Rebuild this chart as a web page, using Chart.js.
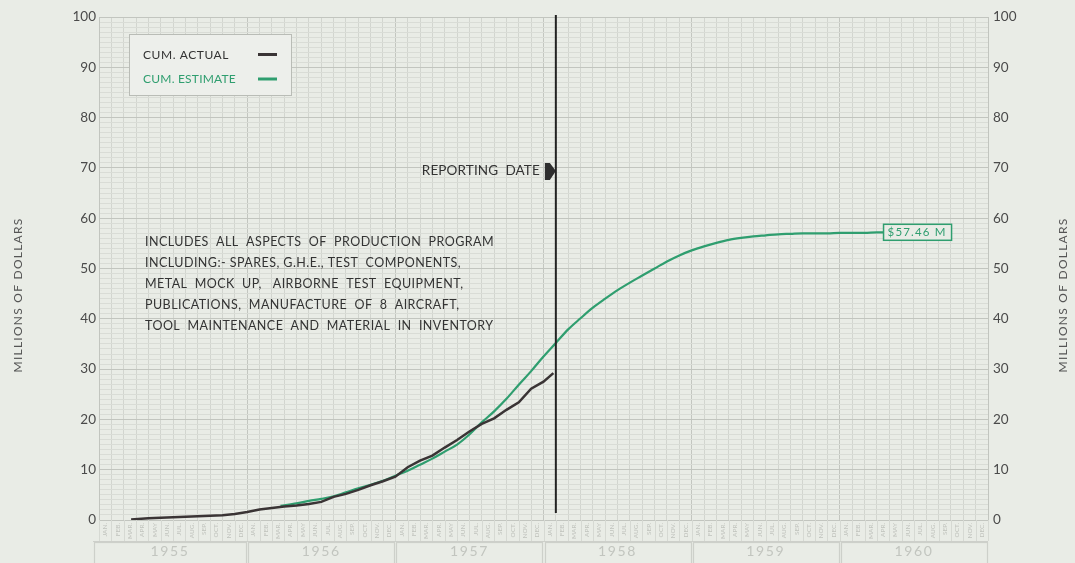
<!DOCTYPE html>
<html><head><meta charset="utf-8">
<script src="https://cdn.jsdelivr.net/npm/chart.js@4.4.1/dist/chart.umd.min.js"></script>
<style>html,body{margin:0;padding:0;background:#e9ece6;overflow:hidden}#wrap{width:1075px;height:563px;position:relative}</style>
</head><body><div id="wrap"><canvas id="c" width="1075" height="563"></canvas></div>
<script>
// ---------- DATA ----------
const monthNames = ['JAN.','FEB.','MAR.','APR.','MAY','JUN.','JUL.','AUG.','SEP.','OCT.','NOV.','DEC.'];
const years = ['1955','1956','1957','1958','1959','1960'];
const yTickValues = [0,10,20,30,40,50,60,70,80,90,100];
// month index: 0 = start of Jan 1955, 72 = end of Dec 1960
const actualMonths = [2.6,4,5,6,7,8,9,10,11,12,13,14,15,16,17,18,19,20,21,22,23,24,25,26,27,28,29,30,31,32,33,34,35,36,36.8];
const actualValues = [0.1,0.35,0.45,0.55,0.65,0.75,0.85,0.95,1.2,1.6,2.1,2.4,2.7,2.9,3.2,3.6,4.6,5.2,6.0,6.9,7.7,8.6,10.5,11.8,12.8,14.4,15.9,17.6,19.1,20.2,21.9,23.4,26.1,27.5,29.2];
const estimateMonths = [14.7,16,17,18,19,20,21,22,23,24,25,26,27,28,29,30,31,32,33,34,35,36,37,38,39,40,41,42,43,44,45,46,47,48,49,50,51,52,53,54,55,56,57,58,59,60,61,62,63,63.5];
const estimateValues = [2.8,3.3,3.8,4.2,4.7,5.5,6.3,7.0,7.8,8.8,9.8,11.0,12.2,13.6,15.0,17.0,19.4,21.6,24.1,26.9,29.6,32.5,35.2,37.9,40.1,42.2,44.0,45.7,47.2,48.6,50.0,51.4,52.6,53.6,54.4,55.1,55.7,56.1,56.4,56.6,56.8,56.9,57.0,57.0,57.0,57.1,57.1,57.1,57.2,57.2];
const reportingMonth = 37;
const finalEstimateLabel = '$57.46 M';
const legendLabels = ['CUM. ACTUAL','CUM. ESTIMATE'];
const axisTitle = 'MILLIONS OF DOLLARS';
const reportingLabel = 'REPORTING  DATE';
const noteLines = [
  'INCLUDES  ALL  ASPECTS  OF  PRODUCTION  PROGRAM',
  'INCLUDING:- SPARES, G.H.E., TEST  COMPONENTS,',
  'METAL  MOCK  UP,   AIRBORNE  TEST  EQUIPMENT,',
  'PUBLICATIONS,  MANUFACTURE  OF  8  AIRCRAFT,',
  'TOOL  MAINTENANCE  AND  MATERIAL  IN  INVENTORY'
];

// ---------- STYLE ----------
const BG = '#e9ece6';
const GREEN = '#2f9e6f';
const DARK = '#3a3435';
const FONT = 'Lato, "Open Sans", sans-serif';
const monthLabels = years.flatMap(() => monthNames);

function fitText(ctx, text, x, y, width, align) {
  ctx.letterSpacing = '0px';
  const w0 = ctx.measureText(text).width;
  const n = [...text].length;
  const ls = (width - w0) / n;
  ctx.letterSpacing = ls + 'px';
  let sx = x;
  if (align === 'right') sx = x - width;
  else if (align === 'center') sx = x - width / 2;
  ctx.textAlign = 'left';
  ctx.fillText(text, sx, y);
  ctx.letterSpacing = '0px';
}

const bgPlugin = {
  id: 'bg',
  beforeDraw(chart) {
    const c = chart.ctx; c.save(); c.fillStyle = BG; c.fillRect(0, 0, chart.width, chart.height); c.restore();
  }
};

const overlayPlugin = {
  id: 'overlay',
  afterDraw(chart) {
    const c = chart.ctx, xs = chart.scales.x, ys = chart.scales.y, a = chart.chartArea;
    c.save();
    // month cell lines under chart
    c.strokeStyle = '#d6d9d3'; c.lineWidth = 1;
    for (let m = 0; m <= 72; m++) {
      const px = Math.round(xs.getPixelForValue(m)) + 0.5;
      c.beginPath(); c.moveTo(px, a.bottom); c.lineTo(px, a.bottom + 21); c.stroke();
    }
    // year band
    const bandTop = a.bottom + 22;
    c.strokeStyle = '#cdd0ca'; c.lineWidth = 1.2;
    c.beginPath(); c.moveTo(xs.getPixelForValue(0) - 6, a.bottom + 21.5); c.lineTo(xs.getPixelForValue(72), a.bottom + 21.5); c.stroke();
    years.forEach((yr, i) => {
      const x0 = (i === 0 ? xs.getPixelForValue(0) - 6 : xs.getPixelForValue(12 * i)) + 1;
      const x1 = xs.getPixelForValue(12 * i + 12) - 1;
      c.strokeRect(Math.round(x0) + 0.5, bandTop + 0.5, Math.round(x1 - x0), 30);
      c.fillStyle = '#c2c5bf'; c.font = '14px ' + FONT; c.textBaseline = 'middle';
      fitText(c, yr, (x0 + x1) / 2, bandTop + 9, 39, 'center');
    });

    // legend box
    c.fillStyle = '#edefeb'; c.fillRect(129, 34, 162, 61);
    c.strokeStyle = '#b9bcb6'; c.lineWidth = 1; c.strokeRect(129.5, 34.5, 162, 61);
    c.font = '12px ' + FONT; c.textBaseline = 'middle';
    c.fillStyle = '#333'; fitText(c, legendLabels[0], 143, 55, 86, 'left');
    c.fillStyle = GREEN; fitText(c, legendLabels[1], 143, 79, 93, 'left');
    c.lineWidth = 3;
    c.strokeStyle = DARK; c.beginPath(); c.moveTo(258, 54.5); c.lineTo(277, 54.5); c.stroke();
    c.strokeStyle = GREEN; c.beginPath(); c.moveTo(258, 79); c.lineTo(277, 79); c.stroke();

    // note text
    c.fillStyle = '#333'; c.font = '12.5px ' + FONT; c.textBaseline = 'middle';
    c.letterSpacing = '0px';
    const w0 = c.measureText(noteLines[0]).width;
    const ls = (349 - w0) / [...noteLines[0]].length;
    noteLines.forEach((t, i) => {
      c.letterSpacing = ls + 'px'; c.textAlign = 'left';
      c.fillText(t, 145, 242 + i * 21);
    });
    c.letterSpacing = '0px';

    // reporting date
    const rx = xs.getPixelForValue(reportingMonth);
    c.fillStyle = '#333'; c.font = '13.5px ' + FONT;
    fitText(c, reportingLabel, rx - 16, 171, 118, 'right');
    c.fillStyle = '#2e2e2e';
    c.beginPath();
    c.moveTo(rx - 11, 163); c.lineTo(rx - 6, 163); c.lineTo(rx, 171); c.lineTo(rx - 6, 180); c.lineTo(rx - 11, 180); c.closePath(); c.fill();
    c.strokeStyle = '#232323'; c.lineWidth = 2;
    c.beginPath(); c.moveTo(rx, a.top - 2); c.lineTo(rx, ys.getPixelForValue(1.4)); c.stroke();

    // final estimate box
    const ex = xs.getPixelForValue(estimateMonths[estimateMonths.length - 1]);
    const ey = ys.getPixelForValue(estimateValues[estimateValues.length - 1]);
    c.fillStyle = BG; c.fillRect(ex, ey - 8, 68, 16);
    c.strokeStyle = GREEN; c.lineWidth = 1.5; c.strokeRect(ex + 0.5, ey - 8, 68, 16);
    c.fillStyle = GREEN; c.font = '11.5px ' + FONT; c.textBaseline = 'middle';
    fitText(c, finalEstimateLabel, ex + 34, ey + 0.5, 59, 'center');

    // axis titles
    c.fillStyle = '#555'; c.font = '12px ' + FONT;
    [18, 1063].forEach(tx => {
      c.save(); c.translate(tx, 295); c.rotate(-Math.PI / 2);
      fitText(c, axisTitle, 0, 0, 155, 'center');
      c.restore();
    });
    c.restore();
  }
};

const yTickCb = v => (yTickValues.includes(v) ? String(v) : '');

new Chart(document.getElementById('c'), {
  type: 'line',
  data: {
    datasets: [
      { label: legendLabels[0], data: actualMonths.map((m, i) => ({ x: m, y: actualValues[i] })),
        borderColor: DARK, borderWidth: 2.5, pointRadius: 0, tension: 0, xAxisID: 'x', yAxisID: 'y' },
      { label: legendLabels[1], data: estimateMonths.map((m, i) => ({ x: m, y: estimateValues[i] })),
        borderColor: GREEN, borderWidth: 2.2, pointRadius: 0, cubicInterpolationMode: 'monotone', xAxisID: 'x', yAxisID: 'y' }
    ]
  },
  options: {
    responsive: false, animation: false, devicePixelRatio: 1,
    layout: { padding: { left: 0, right: 0, top: 17, bottom: 21 } },
    plugins: { legend: { display: false }, tooltip: { enabled: false } },
    scales: {
      x: {
        type: 'linear', min: 0, max: 72, position: 'bottom',
        ticks: { display: false, stepSize: 1, maxTicksLimit: 200, autoSkip: false },
        grid: { drawTicks: false, color: ctx => (ctx.tick && ctx.tick.value % 12 === 0 ? '#c3c6c0' : '#d2d5cf'), lineWidth: 1 },
        border: { display: false },
        afterFit: s => { s.height = 0; }
      },
      xm: {
        type: 'category', labels: monthLabels, offset: true, position: 'bottom',
        grid: { display: false, drawTicks: false }, border: { display: false },
        ticks: { autoSkip: false, maxRotation: 90, minRotation: 90, padding: 3, color: '#c0c3bd', font: { family: FONT, size: 6.5 } },
        afterFit: s => { s.height = 22; }
      },
      y: {
        type: 'linear', min: 0, max: 100, position: 'left',
        ticks: { stepSize: 1, maxTicksLimit: 200, autoSkip: false, callback: yTickCb, padding: 3, color: '#4a4a4a', font: { family: FONT, size: 13.5 } },
        grid: { drawTicks: false, color: ctx => (ctx.tick && ctx.tick.value % 10 === 0 ? '#c2c5bf' : '#d9dcd6'), lineWidth: 1 },
        border: { color: '#c2c5bf' },
        afterFit: s => { s.width = 99; }
      },
      y2: {
        type: 'linear', min: 0, max: 100, position: 'right',
        ticks: { stepSize: 1, maxTicksLimit: 200, autoSkip: false, callback: yTickCb, padding: 5, color: '#4a4a4a', font: { family: FONT, size: 13.5 } },
        grid: { drawOnChartArea: false, drawTicks: false },
        border: { color: '#c2c5bf' },
        afterFit: s => { s.width = 87; }
      }
    }
  },
  plugins: [bgPlugin, overlayPlugin]
});
</script></body></html>
